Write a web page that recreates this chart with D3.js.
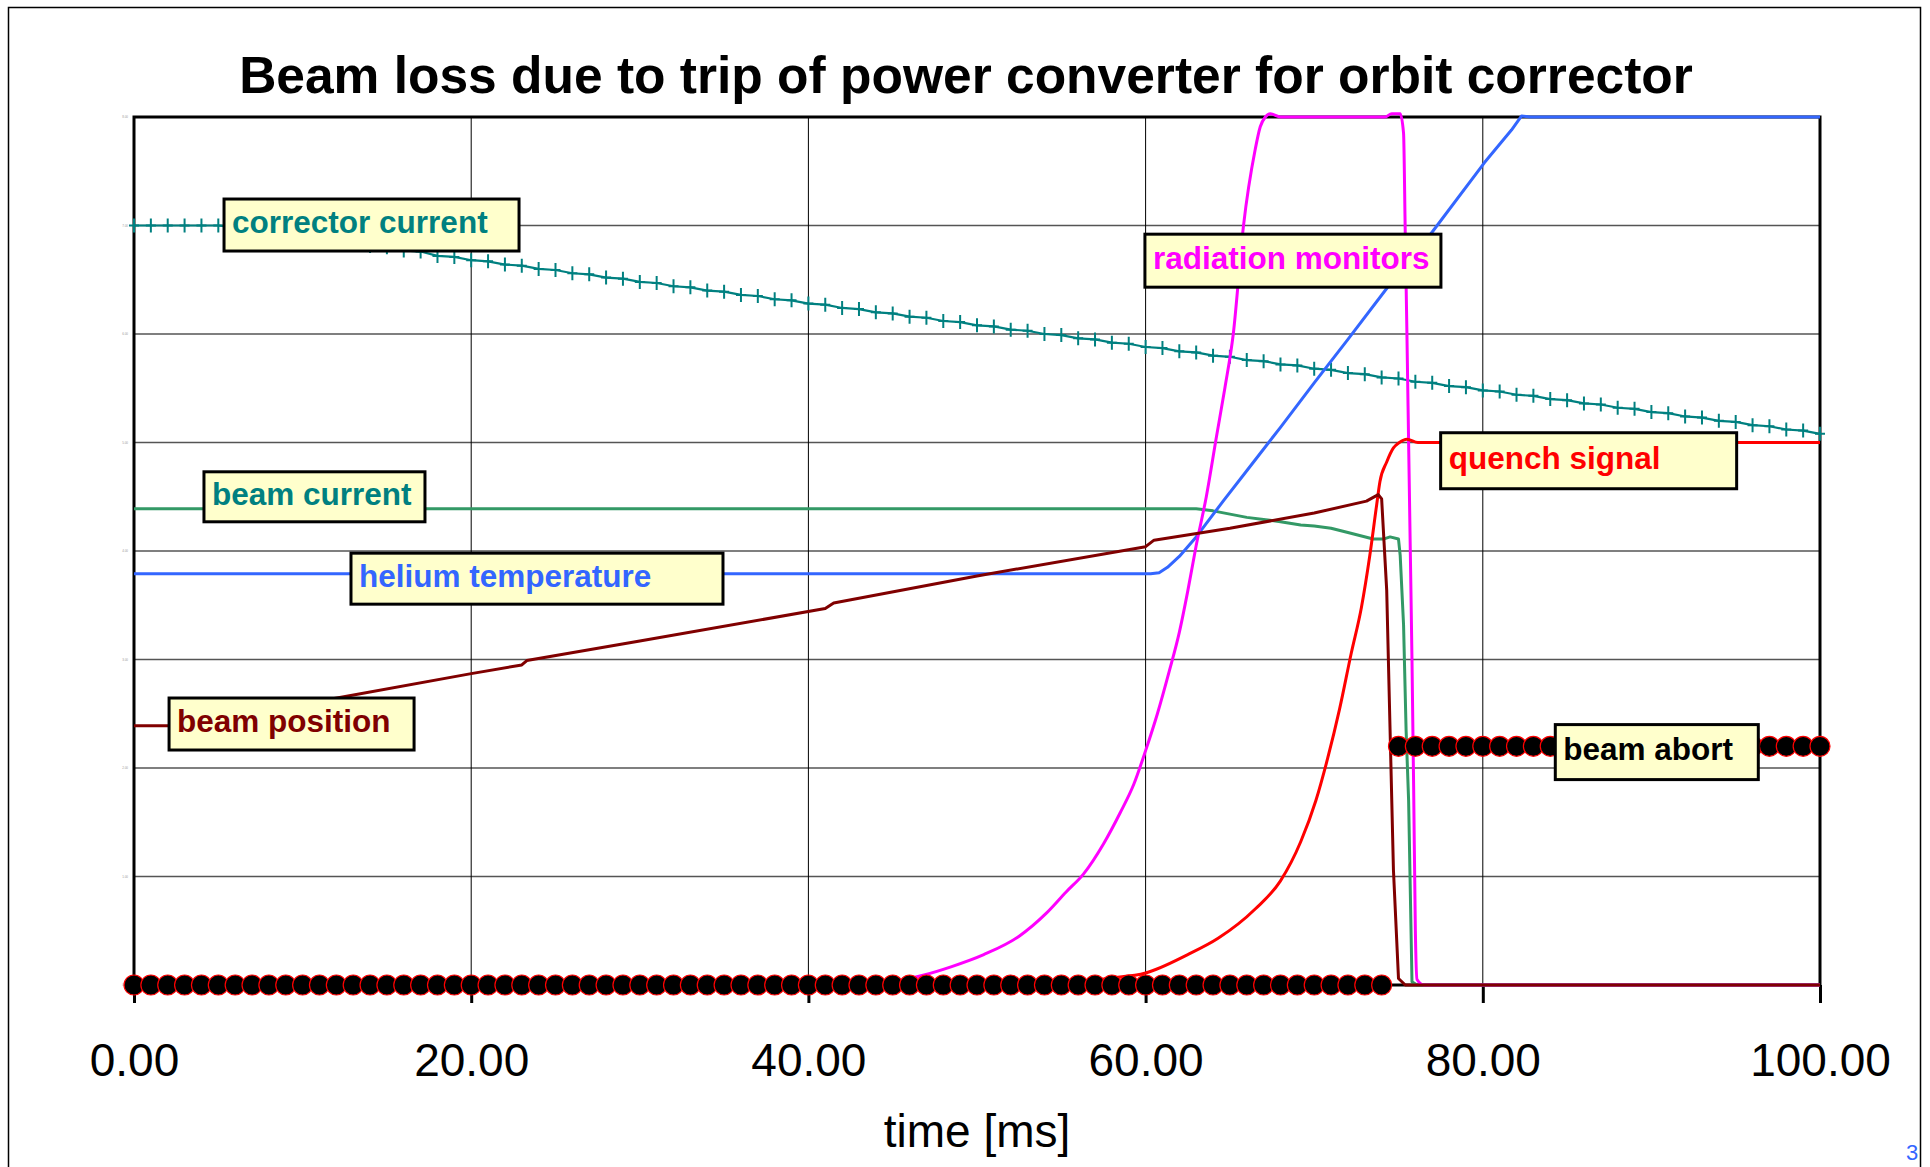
<!DOCTYPE html>
<html>
<head>
<meta charset="utf-8">
<script src="https://cdn.jsdelivr.net/npm/d3@7"></script>
<style>
  html, body { margin: 0; padding: 0; background: #fff; }
  svg { display: block; }
</style>
</head>
<body>
<div id="chart"></div>
<script>
// Datos (tiempo en ms, eje y en divisiones de la rejilla)
const xTicks = [0, 20, 40, 60, 80, 100];
const yTicks = [0, 1, 2, 3, 4, 5, 6, 7, 8];

// corrector current: una muestra por ms (indice = ms)
const correctorCurrent = [
  7.00, 7.00, 7.00, 7.00, 7.00, 7.00, 6.98, 6.97, 6.94, 6.93,
  6.90, 6.89, 6.85, 6.84, 6.81, 6.80, 6.77, 6.76, 6.72, 6.71,
  6.68, 6.67, 6.64, 6.63, 6.60, 6.59, 6.56, 6.55, 6.52, 6.51,
  6.48, 6.47, 6.44, 6.43, 6.40, 6.39, 6.36, 6.35, 6.32, 6.31,
  6.28, 6.27, 6.24, 6.23, 6.20, 6.19, 6.16, 6.15, 6.12, 6.11,
  6.08, 6.07, 6.04, 6.03, 6.00, 5.99, 5.96, 5.95, 5.92, 5.91,
  5.88, 5.87, 5.84, 5.83, 5.80, 5.79, 5.76, 5.75, 5.72, 5.71,
  5.68, 5.67, 5.64, 5.63, 5.60, 5.59, 5.56, 5.55, 5.52, 5.51,
  5.48, 5.47, 5.44, 5.43, 5.40, 5.39, 5.36, 5.35, 5.32, 5.31,
  5.28, 5.27, 5.24, 5.23, 5.20, 5.19, 5.16, 5.15, 5.12, 5.11,
  5.08
];

// beam abort: una muestra por ms (indice = ms), filas de 10
const beamAbort = [
  0, 0, 0, 0, 0, 0, 0, 0, 0, 0,
  0, 0, 0, 0, 0, 0, 0, 0, 0, 0,
  0, 0, 0, 0, 0, 0, 0, 0, 0, 0,
  0, 0, 0, 0, 0, 0, 0, 0, 0, 0,
  0, 0, 0, 0, 0, 0, 0, 0, 0, 0,
  0, 0, 0, 0, 0, 0, 0, 0, 0, 0,
  0, 0, 0, 0, 0, 0, 0, 0, 0, 0,
  0, 0, 0, 0, 0, 2.2, 2.2, 2.2, 2.2, 2.2,
  2.2, 2.2, 2.2, 2.2, 2.2, 2.2, 2.2, 2.2, 2.2, 2.2,
  2.2, 2.2, 2.2, 2.2, 2.2, 2.2, 2.2, 2.2, 2.2, 2.2,
  2.2
];

const beamCurrent = [
  [0, 4.39], [63.0, 4.39], [64, 4.37], [65, 4.34], [66, 4.31], [67, 4.29],
  [68, 4.27], [69.2, 4.24], [70, 4.23], [71, 4.21], [72, 4.17], [73.5, 4.11],
  [74.1, 4.11], [74.5, 4.13], [75.0, 4.11], [75.1, 3.96], [75.3, 3.32],
  [75.45, 2.35], [75.6, 1.70], [75.8, 0.03], [76.1, 0], [100, 0]
];

const heliumTemp = [
  [0, 3.79], [60.3, 3.79], [60.8, 3.80], [61.3, 3.85], [62, 3.95], [63, 4.13],
  [64.6, 4.46], [66, 4.74], [68, 5.14], [70, 5.55], [72, 5.95], [74.4, 6.44],
  [77, 6.94], [80.1, 7.58], [81.7, 7.88], [82.3, 8.01], [82.8, 8.0], [100, 8.0]
];

const radiation = [
  [0, 0], [43, 0], [45, 0.03], [46.8, 0.09], [48.5, 0.17], [50.4, 0.28],
  [52.5, 0.45], [54.1, 0.66], [55.3, 0.86], [56.3, 1.02], [57.5, 1.30],
  [58.5, 1.59], [59.3, 1.85], [60, 2.16], [60.7, 2.50], [61.4, 2.89],
  [62, 3.25], [62.5, 3.63], [63, 4.05], [63.6, 4.50], [64.2, 5.05],
  [64.7, 5.50], [65.2, 6.0], [65.8, 6.99], [66.5, 7.70], [66.8, 7.91],
  [67.1, 8.0], [67.4, 8.03], [68, 8.0], [74.2, 8.0], [74.6, 8.03],
  [75.1, 8.03], [75.3, 7.85], [75.4, 6.93], [75.5, 6.0], [75.6, 5.0],
  [75.7, 4.0], [75.8, 3.0], [75.9, 1.8], [76.0, 0.5], [76.1, 0.05],
  [76.5, 0], [100, 0]
];

const quench = [
  [0, 0], [55, 0], [57.7, 0.06], [60, 0.11], [62.5, 0.28], [64.3, 0.43],
  [66.5, 0.70], [68, 0.96], [69.2, 1.32], [70.1, 1.70], [70.8, 2.09],
  [71.5, 2.54], [72.2, 3.06], [72.8, 3.48], [73.3, 3.96], [73.7, 4.42],
  [73.9, 4.64], [74.3, 4.82], [74.7, 4.95], [75.05, 5.0], [75.5, 5.03],
  [76.15, 5.0], [100, 5.0]
];

const beamPosition = [
  [0, 2.39], [3, 2.39], [12.2, 2.65], [20, 2.87], [23, 2.95], [23.3, 2.99],
  [30, 3.17], [41.0, 3.47], [41.5, 3.52], [50, 3.77], [60, 4.04],
  [60.5, 4.10], [65, 4.21], [70, 4.35], [73.1, 4.46], [73.8, 4.52],
  [74.0, 4.48], [74.3, 3.64], [74.5, 2.35], [74.7, 1.06], [75.0, 0.06],
  [75.4, 0], [100, 0]
];

// Etiquetas: esquina superior izquierda de la caja en unidades de datos
const etiquetas = [
  { texto: "corrector current", t: 5.34, v: 7.244, w: 295, h: 52, color: "#008080" },
  { texto: "radiation monitors", t: 59.96, v: 6.92, w: 296, h: 53, color: "#FF00FF" },
  { texto: "quench signal", t: 77.5, v: 5.09, w: 296, h: 56, color: "#FF0000" },
  { texto: "beam current", t: 4.15, v: 4.73, w: 221, h: 50, color: "#008080" },
  { texto: "helium temperature", t: 12.87, v: 3.98, w: 372, h: 51, color: "#3366FF" },
  { texto: "beam position", t: 2.08, v: 2.645, w: 245, h: 52, color: "#800000" },
  { texto: "beam abort", t: 84.3, v: 2.40, w: 203, h: 55, color: "#000000" }
];

const svgWidth = 1930, svgHeight = 1167;
const margin = { top: 117, right: 110, bottom: 182, left: 134 };

const svg = d3.select("#chart")
  .append("svg")
  .attr("width", svgWidth)
  .attr("height", svgHeight);

// Marco de la pagina
svg.append("rect")
  .attr("x", 8.5).attr("y", 7.5)
  .attr("width", 1912).attr("height", 1200)
  .attr("fill", "none")
  .attr("stroke", "#000")
  .attr("stroke-width", 1.5);

svg.append("text")
  .attr("x", 1906).attr("y", 1160)
  .attr("font-family", "Liberation Sans, Arial, sans-serif")
  .attr("font-size", 22)
  .attr("fill", "#3366FF")
  .text("3");

// Escalas
const x = d3.scaleLinear()
  .domain([0, 100])
  .range([margin.left, svgWidth - margin.right]);

const y = d3.scaleLinear()
  .domain([0, 8])
  .range([svgHeight - margin.bottom, margin.top]);

// Titulo
svg.append("text")
  .attr("x", 966).attr("y", 93)
  .attr("text-anchor", "middle")
  .attr("font-family", "Liberation Sans, Arial, sans-serif")
  .attr("font-weight", "bold")
  .attr("font-size", 51.5)
  .attr("fill", "#000")
  .text("Beam loss due to trip of power converter for orbit corrector");

// Rejilla
svg.append("g")
  .selectAll("line")
  .data(yTicks.slice(1, -1))
  .join("line")
  .attr("x1", x(0)).attr("x2", x(100))
  .attr("y1", d => y(d)).attr("y2", d => y(d))
  .attr("stroke", "#555")
  .attr("stroke-width", 1.6);

svg.append("g")
  .selectAll("line")
  .data(xTicks.slice(1, -1))
  .join("line")
  .attr("x1", d => x(d)).attr("x2", d => x(d))
  .attr("y1", y(0)).attr("y2", y(8))
  .attr("stroke", "#000")
  .attr("stroke-width", 1);

// Eje x
const ejeX = svg.append("g")
  .attr("transform", `translate(0, ${y(0)})`)
  .call(d3.axisBottom(x).tickValues(xTicks).tickFormat(d3.format(".2f")).tickSize(18).tickPadding(40));
ejeX.select(".domain").remove();
ejeX.selectAll(".tick line").attr("stroke", "#000").attr("stroke-width", 3);
ejeX.selectAll(".tick text")
  .attr("font-family", "Liberation Sans, Arial, sans-serif")
  .attr("font-size", 46)
  .attr("fill", "#000");

// Eje y (etiquetas diminutas como en el original)
const ejeY = svg.append("g")
  .attr("transform", `translate(${x(0)}, 0)`)
  .call(d3.axisLeft(y).tickValues(yTicks).tickFormat(d3.format(".2f")).tickSize(0).tickPadding(6));
ejeY.select(".domain").remove();
ejeY.selectAll(".tick text")
  .attr("font-family", "Liberation Sans, Arial, sans-serif")
  .attr("font-size", 3)
  .attr("fill", "#999");

svg.append("text")
  .attr("x", (x(0) + x(100)) / 2).attr("y", 1147)
  .attr("text-anchor", "middle")
  .attr("font-family", "Liberation Sans, Arial, sans-serif")
  .attr("font-size", 46)
  .attr("fill", "#000")
  .text("time [ms]");

// Borde del area del grafico
svg.append("rect")
  .attr("x", x(0)).attr("y", y(8))
  .attr("width", x(100) - x(0)).attr("height", y(0) - y(8))
  .attr("fill", "none")
  .attr("stroke", "#000")
  .attr("stroke-width", 3);

// Lineas
const linea = d3.line().x(d => x(d[0])).y(d => y(d[1]));
const lineaSuave = d3.line().x(d => x(d[0])).y(d => y(d[1])).curve(d3.curveMonotoneX);

const ccPuntos = correctorCurrent.map((v, i) => [i, v]);

svg.append("path")
  .datum(ccPuntos)
  .attr("fill", "none")
  .attr("stroke", "#008080")
  .attr("stroke-width", 2.2)
  .attr("d", linea);

svg.append("g")
  .selectAll("path")
  .data(ccPuntos)
  .join("path")
  .attr("transform", d => `translate(${x(d[0])}, ${y(d[1])})`)
  .attr("d", "M-5,0H5M0,-7V7")
  .attr("stroke", "#008080")
  .attr("stroke-width", 2);

const series = [
  { datos: beamCurrent, color: "#339966", gen: linea },
  { datos: heliumTemp, color: "#3366FF", gen: linea },
  { datos: radiation, color: "#FF00FF", gen: lineaSuave },
  { datos: quench, color: "#FF0000", gen: lineaSuave },
  { datos: beamPosition, color: "#800000", gen: linea }
];

series.forEach(s => {
  svg.append("path")
    .datum(s.datos)
    .attr("fill", "none")
    .attr("stroke", s.color)
    .attr("stroke-width", 3)
    .attr("stroke-linejoin", "round")
    .attr("d", s.gen);
});

// beam abort: circulos
svg.append("g")
  .selectAll("circle")
  .data(beamAbort.map((v, i) => [i, v]))
  .join("circle")
  .attr("cx", d => x(d[0]))
  .attr("cy", d => y(d[1]))
  .attr("r", 10)
  .attr("fill", "#000")
  .attr("stroke", "#FF0000")
  .attr("stroke-width", 1.2);

// Etiquetas
const cajas = svg.append("g")
  .selectAll("g")
  .data(etiquetas)
  .join("g")
  .attr("transform", d => `translate(${x(d.t)}, ${y(d.v)})`);

cajas.append("rect")
  .attr("width", d => d.w)
  .attr("height", d => d.h)
  .attr("fill", "#FFFFCC")
  .attr("stroke", "#000")
  .attr("stroke-width", 3);

cajas.append("text")
  .attr("x", 8)
  .attr("y", d => d.h / 2 + 8)
  .attr("font-family", "Liberation Sans, Arial, sans-serif")
  .attr("font-weight", "bold")
  .attr("font-size", 31.5)
  .attr("fill", d => d.color)
  .text(d => d.texto);
</script>
</body>
</html>
